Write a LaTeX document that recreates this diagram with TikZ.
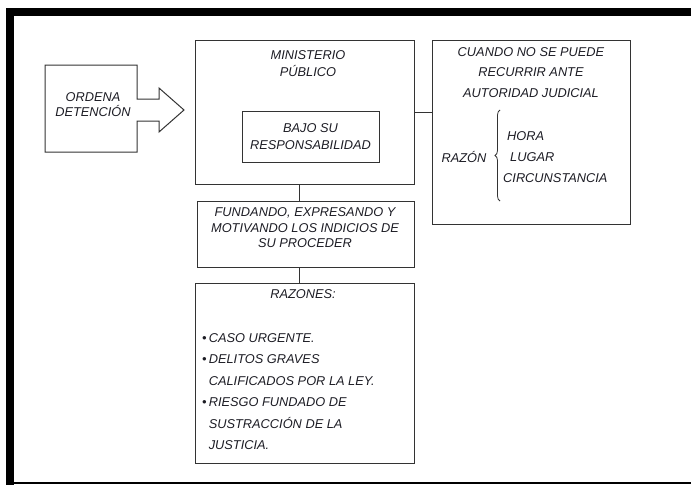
\documentclass[tikz,border=0pt]{standalone}
\usepackage{fontspec}
\setmainfont{Liberation Sans}
\usetikzlibrary{positioning,decorations.pathreplacing}
\definecolor{edge}{HTML}{333333}
\definecolor{ink}{HTML}{1C1C24}

\begin{document}
\begin{tikzpicture}[x=1pt,y=-1pt,
box/.style={draw=edge,line width=1pt,rectangle,inner sep=0pt},
txt/.style={text=ink,inner sep=0pt,align=center,font=\fontsize{12.8}{17}\selectfont\itshape},
wire/.style={draw=edge,line width=1pt}]
\useasboundingbox (0,0) rectangle (691,485);
% page frame
\fill (6,7.5) rectangle (691,16);
\fill (6,7.5) rectangle (14,485);
\draw[line width=2pt] (14,482.5) -- (691,482.5);
% arrow box
\draw[wire] (45,65) -- (137,65) -- (137,99) -- (159,99) -- (159,88) -- (184,110)
    -- (159,132) -- (159,121) -- (137,121) -- (137,152) -- (45,152) -- cycle;
\node (ordena) [txt,font=\fontsize{12.8}{15}\selectfont\itshape] at (93,104.5) {ORDENA\\DETENCIÓN};
% ministerio
\node (minist) [box,minimum width=219pt,minimum height=144pt] at (304.5,112) {};
\node (mintitle) [txt] at (308,63.5) {MINISTERIO\\PÚBLICO};
\node (bajo) [box,txt,minimum width=137pt,minimum height=51pt] at (310.5,136.5) {BAJO SU\\RESPONSABILIDAD};
% cuando
\node (cuando) [box,minimum width=198pt,minimum height=184pt] at (531,132) {};
\node (cuantitle) [txt,font=\fontsize{12.8}{20.5}\selectfont\itshape] at (531,72.5)
    {CUANDO NO SE PUEDE\\RECURRIR ANTE\\AUTORIDAD JUDICIAL};
\node (razon) [txt] at (464,157) {RAZÓN};
\coordinate (bracetop) at (500,110);
\coordinate (bracebot) at (500,201);
\draw[edge,line width=0.8pt,decorate,decoration={brace,amplitude=5pt}] (bracebot) -- (bracetop);
\node (hora) [txt,anchor=west] at (507,136) {HORA};
\node (lugar) [txt,anchor=west] at (510,157) {LUGAR};
\node (circ) [txt,anchor=west] at (503,178) {CIRCUNSTANCIA};
% fundando
\node (fund) [box,minimum width=217pt,minimum height=66pt] at (305.5,234) {};
\node (fundtxt) [txt,font=\fontsize{12.8}{15.5}\selectfont\itshape] at (305,228)
    {FUNDANDO, EXPRESANDO Y\\MOTIVANDO LOS INDICIOS DE\\SU PROCEDER};
% razones
\node (razones) [box,minimum width=219pt,minimum height=180pt] at (304.5,373) {};
\node (raztitle) [txt] at (303,294) {RAZONES:};
\node (razlist) [txt,align=left,anchor=west,font=\fontsize{12.8}{21.4}\selectfont\itshape] at (202,391.5)
    {\textbullet\,CASO URGENTE.\\
     \textbullet\,DELITOS GRAVES\\
     \hphantom{\textbullet\,}CALIFICADOS POR LA LEY.\\
     \textbullet\,RIESGO FUNDADO DE\\
     \hphantom{\textbullet\,}SUSTRACCIÓN DE LA\\
     \hphantom{\textbullet\,}JUSTICIA.};
% connectors
\coordinate (spine) at (299,0);
\draw[wire] (minist.east) -- (minist.east -| cuando.west);
\draw[wire] (minist.south -| spine) -- (fund.north -| spine);
\draw[wire] (fund.south -| spine) -- (razones.north -| spine);
\end{tikzpicture}
\end{document}
